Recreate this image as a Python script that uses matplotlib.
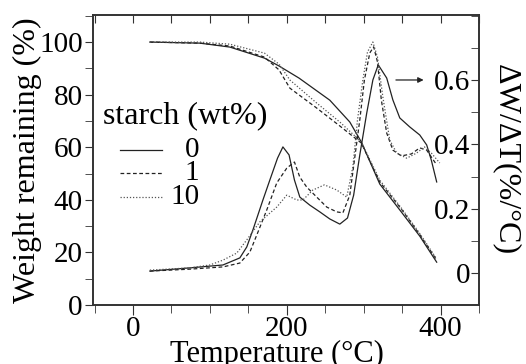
import numpy as np
import matplotlib
matplotlib.use('Agg')
import matplotlib.pyplot as plt
from matplotlib.lines import Line2D
from matplotlib.ticker import MultipleLocator

plt.rcParams['font.family'] = ['Liberation Serif', 'DejaVu Serif']

# weight remaining (TGA), left axis
tga_T_0 = [22, 87, 126, 171, 190, 216, 256, 282, 297, 321, 349, 373, 395]
tga_W_0 = [100, 99.6, 98.1, 93.9, 90.9, 86.3, 77.9, 69.6, 62.0, 46.0, 35.4, 26.2, 16.3]
tga_T_1 = [22, 87, 126, 171, 190, 204, 239, 269, 297, 321, 349, 373, 395]
tga_W_1 = [100, 99.6, 98.5, 94.3, 89.4, 82.5, 74.9, 68.1, 61.6, 46.8, 36.5, 26.8, 17.1]
tga_T_10 = [22, 87, 126, 171, 190, 204, 239, 269, 297, 321, 349, 373, 395]
tga_W_10 = [100, 100, 99.2, 95.8, 91.6, 85.6, 76.8, 69.6, 62.0, 47.5, 36.9, 27.2, 17.5]

# derivative (DTG), right axis
dtg_T_0 = [22, 74, 117, 139, 148, 156, 169, 178, 188, 195, 203, 210, 217, 230, 243, 256,
           269, 279, 287, 295, 304, 312, 319, 330, 338, 347, 360, 373, 382, 388, 395]
dtg_0 = [0.006, 0.016, 0.025, 0.047, 0.081, 0.134, 0.227, 0.289, 0.357, 0.392, 0.367, 0.289,
         0.236, 0.211, 0.190, 0.168, 0.152, 0.171, 0.242, 0.367, 0.497, 0.600, 0.647, 0.606,
         0.538, 0.482, 0.454, 0.429, 0.398, 0.351, 0.283]
dtg_T_1 = [22, 74, 117, 139, 152, 161, 174, 187, 200, 210, 217, 226, 239, 252, 265, 273,
           282, 288, 295, 301, 308, 313, 318, 323, 330, 338, 349, 362, 373, 382, 395]
dtg_1 = [0.006, 0.012, 0.019, 0.031, 0.065, 0.118, 0.196, 0.280, 0.326, 0.345, 0.298, 0.267,
         0.236, 0.205, 0.190, 0.187, 0.242, 0.351, 0.476, 0.600, 0.684, 0.703, 0.656, 0.538,
         0.435, 0.382, 0.364, 0.370, 0.389, 0.382, 0.336]
dtg_T_10 = [22, 74, 100, 117, 135, 148, 165, 187, 200, 213, 221, 234, 249, 265, 278, 286,
            292, 299, 305, 312, 318, 325, 334, 343, 356, 369, 379, 388, 399]
dtg_10 = [0.009, 0.016, 0.025, 0.040, 0.062, 0.103, 0.159, 0.205, 0.242, 0.227, 0.227, 0.258,
          0.274, 0.258, 0.236, 0.330, 0.476, 0.600, 0.687, 0.718, 0.671, 0.547, 0.413, 0.373,
          0.357, 0.373, 0.392, 0.373, 0.342]

labels = ['0', '1', '10']
styles = [dict(color='#222222', lw=0.9, ls='-'),
          dict(color='#222222', lw=0.9, ls=(0, (3, 2))),
          dict(color='#555555', lw=0.9, ls=(0, (1, 1.5)))]

fig = plt.figure(figsize=(5.26, 3.64), dpi=100)
ax = fig.add_axes([0.1768, 0.162, 0.7338, 0.7968])
ax2 = ax.twinx()

for T, W, st in zip([tga_T_0, tga_T_1, tga_T_10], [tga_W_0, tga_W_1, tga_W_10], styles):
    ax.plot(T, W, **st)
for T, D, st in zip([dtg_T_0, dtg_T_1, dtg_T_10], [dtg_0, dtg_1, dtg_10], styles):
    ax2.plot(T, D, **st)

ax.set_xlim(-52, 450)
ax.set_ylim(0, 110.3)
ax2.set_ylim(-0.0995, 0.802)

ax.xaxis.set_major_locator(MultipleLocator(200))
ax.xaxis.set_minor_locator(MultipleLocator(50))
ax.yaxis.set_major_locator(MultipleLocator(20))
ax.yaxis.set_minor_locator(MultipleLocator(10))
ax2.yaxis.set_minor_locator(MultipleLocator(0.1))
ax2.set_yticks([0, 0.2, 0.4, 0.6])
ax2.set_yticklabels(['0', '0.2', '0.4', '0.6'])

ax.tick_params(axis='x', which='both', direction='out', labelsize=21, pad=1, color='#333333')
ax.tick_params(axis='x', which='major', length=7)
ax.tick_params(axis='x', which='minor', length=6)
ax.tick_params(axis='y', which='both', direction='out', length=6, labelsize=21, pad=1.5, color='#333333')
ax2.tick_params(axis='y', which='both', direction='in', length=6, labelsize=21, pad=-6.5, color='#333333')
for t in ax2.get_yticklabels():
    t.set_horizontalalignment('right')

top = ax.secondary_xaxis('top')
top.xaxis.set_major_locator(MultipleLocator(50))
top.tick_params(direction='in', length=6, labeltop=False, color='#333333')

for a in (ax, ax2):
    for s in a.spines.values():
        s.set_linewidth(1.2)
        s.set_color('#333333')
top.spines['top'].set_visible(False)

ax.set_xlabel('Temperature (°C)', fontsize=22)
ax.xaxis.set_label_coords(0.477, -0.122)
ax.set_ylabel('Weight remaining (%)', fontsize=23)
ax.yaxis.set_label_coords(-0.132, 0.5)
ax2.set_ylabel('ΔW/ΔT(%/°C)', fontsize=23, rotation=-90, labelpad=30)

# arrow pointing to the right axis
ax2.annotate('', xy=(378, 0.6), xytext=(342, 0.6),
             arrowprops=dict(arrowstyle='-|>', color='#222222', lw=0.9,
                             mutation_scale=8, shrinkA=0, shrinkB=0))

# legend drawn by hand
ax.text(0.026, 0.628, 'starch (wt%)', transform=ax.transAxes, fontsize=23, ha='left', va='baseline')
for i, (lab, st) in enumerate(zip(labels, styles)):
    y = 0.534 - i * 0.08
    ax.add_line(Line2D([0.07, 0.178], [y, y], transform=ax.transAxes, **st))
    ax.text(0.275, y, lab, transform=ax.transAxes, fontsize=21, ha='right', va='center')

fig.savefig('out.png', dpi=100)
